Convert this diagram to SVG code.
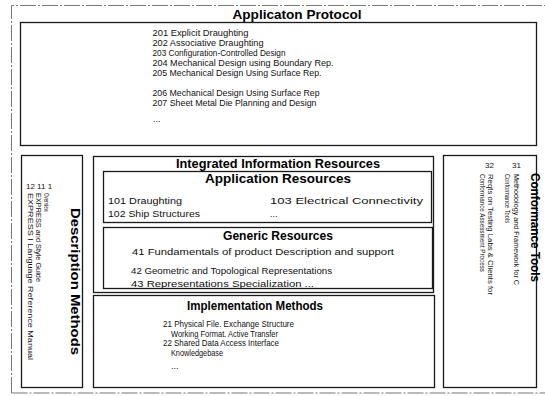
<svg xmlns="http://www.w3.org/2000/svg" width="545" height="396" viewBox="0 0 545 396">
<style>
.bg{fill:#ffffff}
.frame{fill:none;stroke:#777;stroke-width:1;stroke-dasharray:16 2 2 2}
.box{fill:#ffffff;stroke:#1a1a1a;stroke-width:1.3}
.t{font-family:"Liberation Sans",Arial,sans-serif;font-size:9px;fill:#111}
.r{font-family:"Liberation Sans",Arial,sans-serif;font-size:8px;fill:#111}
.h{font-family:"Liberation Sans",Arial,sans-serif;font-size:12px;font-weight:bold;fill:#000}
</style>
<rect class="bg" x="0" y="0" width="545" height="396"/>
<path class="frame" d="M11.5,393 V5.5 H545 M11.5,393 H545"/>

<g id="application-protocol">
<text class="h" x="297" y="18.5" text-anchor="middle" textLength="129" lengthAdjust="spacingAndGlyphs">Applicaton Protocol</text>
<rect class="box" x="20.5" y="22.5" width="516" height="123"/>
<text class="t" x="152.5" y="35.5" textLength="96" lengthAdjust="spacingAndGlyphs">201 Explicit Draughting</text>
<text class="t" x="152.5" y="45.5" textLength="111" lengthAdjust="spacingAndGlyphs">202 Associative  Draughting</text>
<text class="t" x="152.5" y="55.5" textLength="133" lengthAdjust="spacingAndGlyphs">203 Configuration-Controlled Design</text>
<text class="t" x="152.5" y="65.5" textLength="181" lengthAdjust="spacingAndGlyphs">204 Mechanical Design using Boundary Rep.</text>
<text class="t" x="152.5" y="75.5" textLength="169" lengthAdjust="spacingAndGlyphs">205 Mechanical Design Using Surface Rep.</text>
<text class="t" x="152.5" y="95.5" textLength="167" lengthAdjust="spacingAndGlyphs">206 Mechanical Design Using Surface Rep</text>
<text class="t" x="152.5" y="106" textLength="164" lengthAdjust="spacingAndGlyphs">207 Sheet Metal Die Planning and Design</text>
<text class="t" x="153" y="122">...</text>
</g>

<g id="description-methods">
<rect class="box" x="21.5" y="155.5" width="61" height="232"/>
<text class="h" transform="translate(71,208) rotate(90)" textLength="147" lengthAdjust="spacingAndGlyphs">Description Methods</text>
<text class="r" x="26" y="189">12 11  1</text>
<text class="r" transform="translate(44,193) rotate(90)" textLength="19" lengthAdjust="spacingAndGlyphs">Overview</text>
<text class="r" transform="translate(35.5,193) rotate(90)" textLength="89" lengthAdjust="spacingAndGlyphs">EXPRESS and Style Guide</text>
<text class="r" transform="translate(28,193) rotate(90)" textLength="167" lengthAdjust="spacingAndGlyphs">EXPRESS I Language Reference Manual</text>
</g>

<g id="integrated-information-resources">
<rect class="box" x="93.5" y="156.5" width="340" height="136"/>
<text class="h" x="278" y="167.5" text-anchor="middle" textLength="204" lengthAdjust="spacingAndGlyphs">Integrated Information Resources</text>
</g>

<g id="application-resources">
<rect class="box" x="103.5" y="171.5" width="328" height="51"/>
<text class="h" x="278" y="182.5" text-anchor="middle" textLength="146" lengthAdjust="spacingAndGlyphs">Application Resources</text>
<text class="t" x="108" y="203.5" textLength="74" lengthAdjust="spacingAndGlyphs">101 Draughting</text>
<text class="t" x="108" y="216.5" textLength="92" lengthAdjust="spacingAndGlyphs">102 Ship Structures</text>
<text class="t" x="270" y="203.5" textLength="153" lengthAdjust="spacingAndGlyphs">103 Electrical Connectivity</text>
<text class="t" x="270" y="216.5">...</text>
</g>

<g id="generic-resources">
<rect class="box" x="103.5" y="227.5" width="329" height="61"/>
<text class="h" x="278" y="239.5" text-anchor="middle" textLength="110" lengthAdjust="spacingAndGlyphs">Generic Resources</text>
<text class="t" x="132" y="254.5" textLength="262" lengthAdjust="spacingAndGlyphs">41 Fundamentals of product Description and    support</text>
<text class="t" x="131" y="273.5" textLength="201" lengthAdjust="spacingAndGlyphs">42 Geometric and Topological Representations</text>
<text class="t" x="131" y="286.5" textLength="183" lengthAdjust="spacingAndGlyphs">43 Representations Specialization ...</text>
</g>

<g id="implementation-methods">
<rect class="box" x="93.5" y="295.5" width="341" height="92"/>
<text class="h" x="255" y="309.5" text-anchor="middle" textLength="136" lengthAdjust="spacingAndGlyphs">Implementation Methods</text>
<text class="t" x="163" y="326.5" textLength="131" lengthAdjust="spacingAndGlyphs">21 Physical File. Exchange Structure</text>
<text class="t" x="171" y="336.5" textLength="107" lengthAdjust="spacingAndGlyphs">Working Format. Active Transfer</text>
<text class="t" x="163" y="345.5" textLength="116" lengthAdjust="spacingAndGlyphs">22 Shared Data Access Interface</text>
<text class="t" x="171" y="355.5" textLength="52" lengthAdjust="spacingAndGlyphs">Knowledgebase</text>
<text class="t" x="171" y="369">...</text>
</g>

<g id="conformance-tools">
<rect class="box" x="443.5" y="155.5" width="93" height="232"/>
<text class="h" transform="translate(531,173) rotate(90)" textLength="109" lengthAdjust="spacingAndGlyphs">Conformance Tools</text>
<text class="r" x="485" y="168">32</text>
<text class="r" x="512" y="168">31</text>
<text class="r" transform="translate(514,174) rotate(90)" textLength="111" lengthAdjust="spacingAndGlyphs">Methodology and Framework for C</text>
<text class="r" transform="translate(505,174) rotate(90)" textLength="49" lengthAdjust="spacingAndGlyphs">Conformance Tools</text>
<text class="r" transform="translate(488,174) rotate(90)" textLength="121" lengthAdjust="spacingAndGlyphs">Reqts on Testing Labs &amp; Clients for</text>
<text class="r" transform="translate(480,174) rotate(90)" textLength="98" lengthAdjust="spacingAndGlyphs">Conformance Assessment Process</text>
</g>

<g id="connectors"></g>
</svg>
